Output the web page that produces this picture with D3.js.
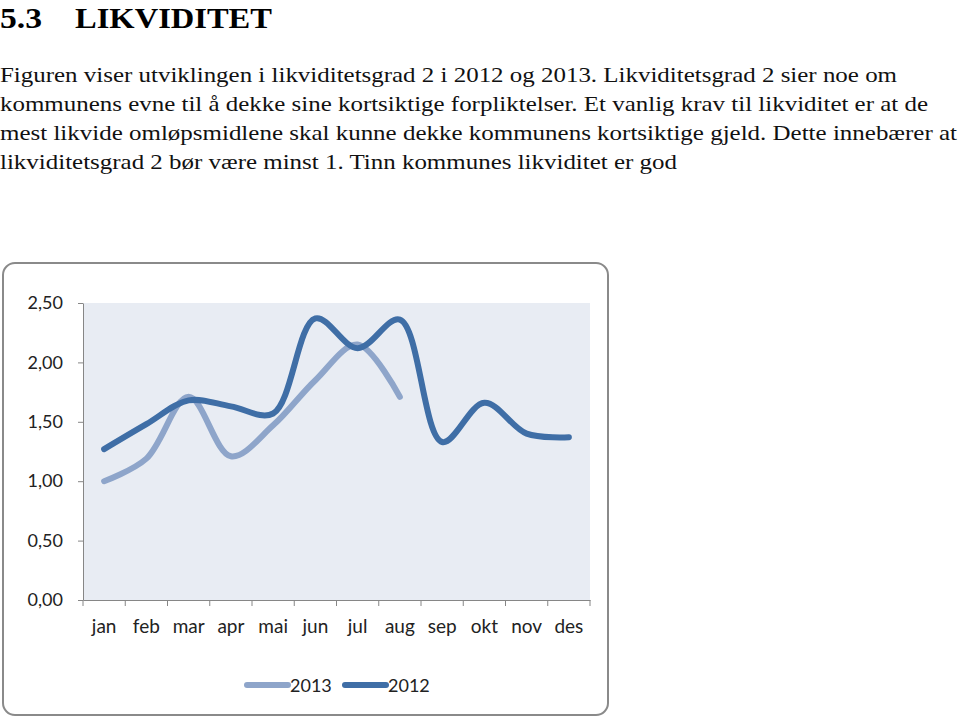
<!DOCTYPE html>
<html lang="no">
<head>
<meta charset="UTF-8">
<title>Likviditet</title>
<script src="https://d3js.org/d3.v7.min.js"></script>
<style>
  html, body { margin: 0; padding: 0; background: #fff; }
</style>
</head>
<body>
<div id="svg"></div>
<script>
// data
const months = ['jan', 'feb', 'mar', 'apr', 'mai', 'jun', 'jul', 'aug', 'sep', 'okt', 'nov', 'des'];
const values2012 = [1.27, 1.48, 1.68, 1.63, 1.57, 2.37, 2.12, 2.36, 1.33, 1.66, 1.40, 1.37];
const values2013 = [1.00, 1.19, 1.71, 1.21, 1.47, 1.85, 2.15, 1.71];
const yTicks = [0, 0.5, 1, 1.5, 2, 2.5];
const seriesNames = ['2013', '2012'];

const bodyLines = [
  'Figuren viser utviklingen i likviditetsgrad 2 i 2012 og 2013. Likviditetsgrad 2 sier noe om',
  'kommunens evne til å dekke sine kortsiktige forpliktelser. Et vanlig krav til likviditet er at de',
  'mest likvide omløpsmidlene skal kunne dekke kommunens kortsiktige gjeld. Dette innebærer at',
  'likviditetsgrad 2 bør være minst 1. Tinn kommunes likviditet er god'
];
const lineWidths = [897, 928, 957, 677];

const width = 960, height = 718;
const colors = { '2013': '#8ea5ca', '2012': '#3f6ea6' };
const plot = { left: 83, right: 590, top: 303, bottom: 600 };

const svg = d3.select('#svg').append('svg')
  .attr('width', width)
  .attr('height', height);

// heading
const head = svg.append('g')
  .attr('font-family', '"Liberation Serif", "Times New Roman", serif')
  .attr('font-weight', 'bold')
  .attr('font-size', 30);
head.append('text').attr('x', 0).attr('y', 28).attr('textLength', 42).attr('lengthAdjust', 'spacingAndGlyphs').text('5.3');
head.append('text').attr('x', 75).attr('y', 28).attr('textLength', 197).attr('lengthAdjust', 'spacingAndGlyphs').text('LIKVIDITET');

// body text
svg.append('g')
  .attr('font-family', '"Liberation Serif", "Times New Roman", serif')
  .attr('font-size', 22)
  .attr('fill', '#111')
  .selectAll('text')
  .data(bodyLines)
  .join('text')
  .attr('x', 0)
  .attr('y', (d, i) => 82 + i * 29)
  .attr('textLength', (d, i) => lineWidths[i])
  .attr('lengthAdjust', 'spacingAndGlyphs')
  .text(d => d);

// chart frame
svg.append('rect')
  .attr('x', 3).attr('y', 263)
  .attr('width', 605).attr('height', 452)
  .attr('rx', 12)
  .attr('fill', '#fff')
  .attr('stroke', '#8a8a8a')
  .attr('stroke-width', 2);

// plot background
svg.append('rect')
  .attr('x', plot.left).attr('y', plot.top)
  .attr('width', plot.right - plot.left).attr('height', plot.bottom - plot.top)
  .attr('fill', '#e8ecf3');

const x = d3.scaleBand().domain(months).range([plot.left, plot.right]);
const y = d3.scaleLinear().domain([0, 2.5]).range([plot.bottom, plot.top]);

const axisFont = 'Lato, "Open Sans", sans-serif';

// y axis
const gY = svg.append('g')
  .attr('transform', `translate(${plot.left},0)`)
  .call(d3.axisLeft(y).tickValues(yTicks).tickSize(5).tickSizeOuter(0)
    .tickFormat(d => d3.format('.2f')(d).replace('.', ',')));
gY.select('.domain').attr('stroke', '#868686');
gY.selectAll('.tick line').attr('stroke', '#868686');
gY.selectAll('.tick text')
  .attr('font-family', axisFont).attr('font-size', 18).attr('fill', '#222')
  .attr('x', -20);

// x axis
const gX = svg.append('g')
  .attr('transform', `translate(0,${plot.bottom})`)
  .call(d3.axisBottom(x).tickSize(0).tickSizeOuter(0));
gX.select('.domain').attr('stroke', '#868686');
gX.selectAll('.tick text')
  .attr('font-family', axisFont).attr('font-size', 19).attr('fill', '#222')
  .attr('y', 20);
// boundary ticks between categories
gX.selectAll('.bound')
  .data(d3.range(months.length + 1))
  .join('line')
  .attr('class', 'bound')
  .attr('x1', i => plot.left + i * x.step())
  .attr('x2', i => plot.left + i * x.step())
  .attr('y1', 0).attr('y2', 6)
  .attr('stroke', '#868686');

// lines
const line = d3.line()
  .x((d, i) => x(months[i]) + x.bandwidth() / 2)
  .y(d => y(d))
  .curve(d3.curveCatmullRom.alpha(0.5));

const series = [
  { name: '2013', values: values2013 },
  { name: '2012', values: values2012 }
];

svg.append('g')
  .selectAll('path')
  .data(series)
  .join('path')
  .attr('d', d => line(d.values))
  .attr('fill', 'none')
  .attr('stroke', d => colors[d.name])
  .attr('stroke-width', 6)
  .attr('stroke-linecap', 'round')
  .attr('stroke-linejoin', 'round');

// legend
const legend = svg.append('g').attr('transform', 'translate(245,685)');
const item = legend.selectAll('g')
  .data(seriesNames)
  .join('g')
  .attr('transform', (d, i) => `translate(${i * 98},0)`);
item.append('line')
  .attr('x1', 2).attr('x2', 43)
  .attr('stroke', d => colors[d])
  .attr('stroke-width', 6)
  .attr('stroke-linecap', 'round');
item.append('text')
  .attr('x', 45).attr('y', 7)
  .attr('font-family', axisFont).attr('font-size', 18).attr('fill', '#222')
  .text(d => d);
</script>
</body>
</html>
